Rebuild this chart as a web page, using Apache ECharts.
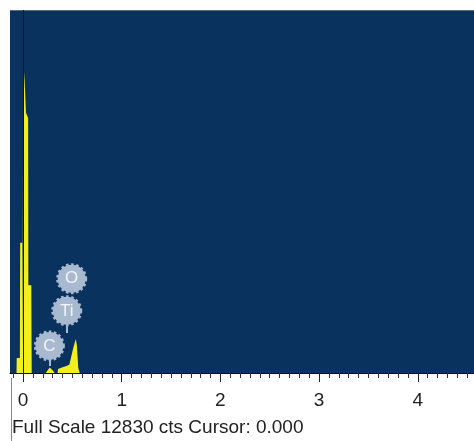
<!DOCTYPE html>
<html>
<head>
<meta charset="utf-8">
<script src="https://cdn.jsdelivr.net/npm/echarts@6/dist/echarts.min.js"></script>
<style>
html,body{margin:0;padding:0;background:#fff;}
#chart{width:474px;height:441px;}
</style>
</head>
<body>
<div id="chart"></div>
<script>
// Spectrum (energy in keV, counts)
var energy = [-0.132, -0.066, -0.064, -0.032, -0.029, -0.008, -0.005, 0.001, 0.012, 0.022, 0.030, 0.052, 0.054, 0.084, 0.088,
              0.23, 0.24, 0.27, 0.30, 0.32, 0.35, 0.355, 0.40, 0.44, 0.47, 0.49, 0.51, 0.535, 0.545, 0.56, 0.575, 4.57];
var counts = [0, 0, 530, 530, 4600, 4600, 900, 9000, 10650, 10650, 9200, 9000, 3100, 3100, 0,
              0, 60, 190, 100, 0, 0, 140, 200, 250, 300, 600, 900, 1200, 1000, 180, 0, 0];

// Element labels
var labelNames = ['C', 'Ti', 'O'];
var labelEnergy = [0.267, 0.443, 0.493];
var labelCounts = [957, 2197, 3331];
var stemTop = [461, 1701, 0];
var stemBottom = [248, 1418, 0];

// Axis
var xMin = -0.132, xMax = 4.57;
var majorTicks = [0, 1, 2, 3, 4];
var fullScale = 12830;
var cursorValue = 0;

var minorTicks = [];
for (var i = -1; i <= 45; i++) { if (i % 10 !== 0) minorTicks.push(i / 10); }

var spec = energy.map(function (e, i) { return [e, counts[i]]; });
var labels = labelNames.map(function (n, i) { return { name: n, value: [labelEnergy[i], labelCounts[i]] }; });
var stems = [];
labelNames.forEach(function (n, i) {
  if (stemTop[i] > stemBottom[i]) {
    stems.push([{ coord: [labelEnergy[i], stemTop[i]] }, { coord: [labelEnergy[i], stemBottom[i]] }]);
  }
});

var bubble = '#a9b9cf';
var chart = echarts.init(document.getElementById('chart'), null, { renderer: 'canvas' });
chart.setOption({
  animation: false,
  grid: { left: 10, right: 0, top: 10, bottom: 68, show: true, backgroundColor: '#09325f', borderWidth: 0 },
  xAxis: [{
    type: 'value', min: xMin, max: xMax,
    axisLine: { show: true, onZero: false, lineStyle: { color: '#111', width: 1 } },
    axisTick: { show: true, length: 9, customValues: majorTicks, lineStyle: { color: '#222' } },
    axisLabel: { show: true, customValues: majorTicks, margin: 18, fontSize: 19, fontFamily: 'Arial, Liberation Sans', color: '#222' },
    splitLine: { show: false }
  }, {
    type: 'value', min: xMin, max: xMax, position: 'bottom',
    axisLine: { show: false },
    axisTick: { show: true, length: 5, customValues: minorTicks, lineStyle: { color: '#333' } },
    axisLabel: { show: false },
    splitLine: { show: false }
  }],
  yAxis: { type: 'value', min: 0, max: fullScale, show: false, splitLine: { show: false } },
  series: [{
    type: 'line', xAxisIndex: 0, data: spec, symbol: 'none', silent: true,
    lineStyle: { width: 0 },
    areaStyle: { color: '#f2ef1c', opacity: 1 },
    markLine: {
      silent: true, symbol: 'none', label: { show: false },
      lineStyle: { color: '#0b1625', width: 1, type: 'solid' },
      data: [{ xAxis: cursorValue }]
    },
    z: 2
  }, {
    type: 'scatter', xAxisIndex: 0, data: labels, symbol: 'circle', symbolSize: 28, silent: true,
    itemStyle: { color: bubble, borderColor: bubble, borderWidth: 3, borderType: [2.5, 2.5], opacity: 1 },
    label: { show: true, position: 'inside', formatter: '{b}', color: '#f2f5fa', fontSize: 17, fontFamily: 'Arial, Liberation Sans' },
    markLine: {
      silent: true, symbol: 'none', label: { show: false },
      lineStyle: { color: bubble, width: 2, type: 'solid' },
      data: stems
    },
    z: 5
  }],
  graphic: [{
    type: 'text', left: 12, top: 418,
    style: { text: 'Full Scale ' + fullScale + ' cts Cursor: ' + cursorValue.toFixed(3), fill: '#222', fontSize: 19, fontFamily: 'Arial, Liberation Sans' }
  }, {
    type: 'line', shape: { x1: 11.5, y1: 378, x2: 11.5, y2: 441 }, style: { stroke: '#8a8a8a', lineWidth: 1 }
  }, {
    type: 'line', shape: { x1: 10, y1: 10.5, x2: 474, y2: 10.5 }, style: { stroke: '#5b6b7c', lineWidth: 1 }
  }]
});
</script>
</body>
</html>
